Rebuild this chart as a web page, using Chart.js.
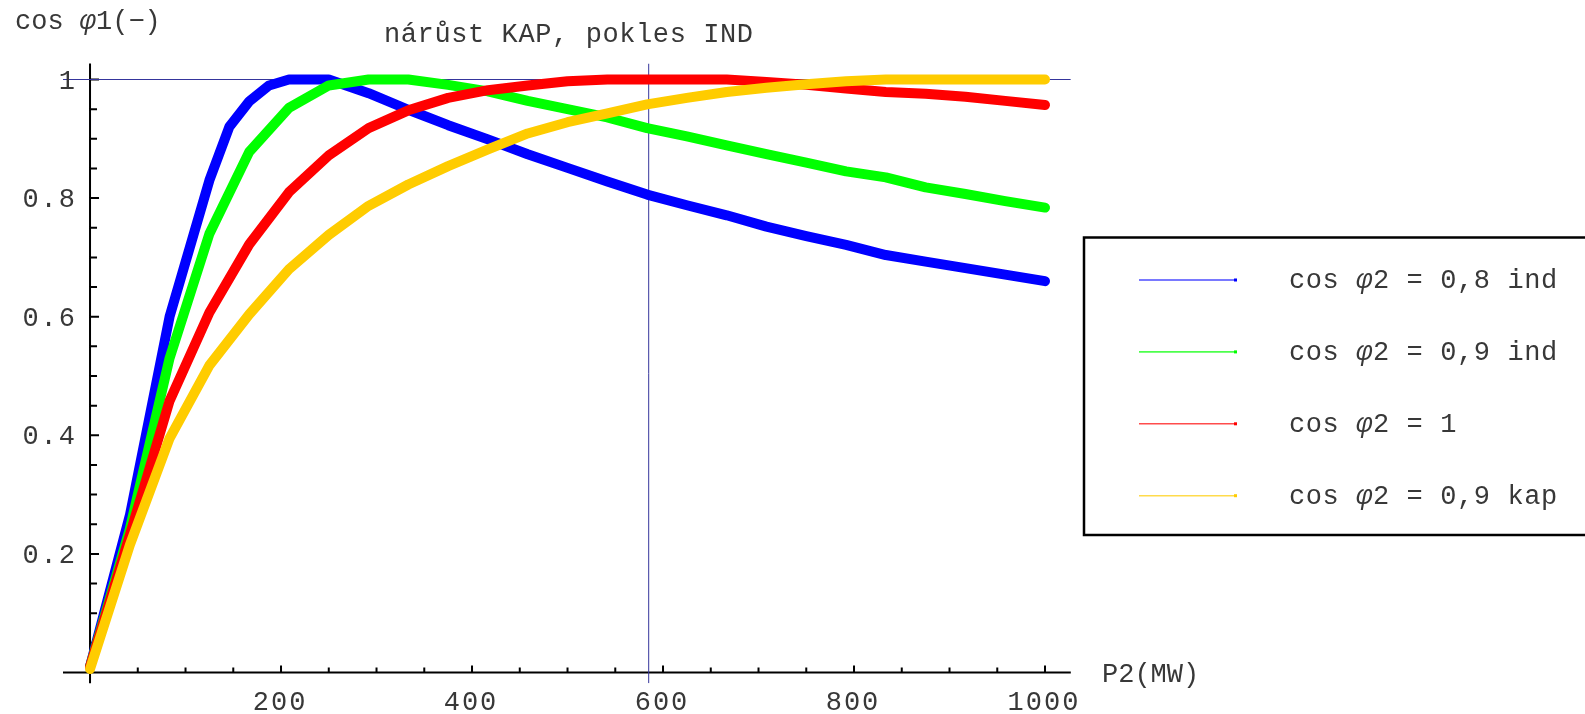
<!DOCTYPE html>
<html>
<head>
<meta charset="utf-8">
<script src="https://cdn.jsdelivr.net/npm/chart.js@4/dist/chart.umd.min.js"></script>
<style>
  html, body { margin: 0; padding: 0; background: #fff; }
  #wrap { width: 1585px; height: 714px; position: relative; }
</style>
</head>
<body>
<div id="wrap"><canvas id="c"></canvas></div>
<script>
// Load power P2 (MW) at which the curves were evaluated
const p2 = [0, 41.7, 83.3, 125, 166.7, 208.3, 250, 291.7, 333.3, 375, 416.7, 458.3, 500,
            541.7, 583.3, 625, 666.7, 708.3, 750, 791.7, 833.3, 875, 916.7, 958.3, 1000];
// the 0,8 ind curve is sampled more finely around its peak
const p2Ind08 = [0, 41.7, 83.3, 125, 145.8, 166.7, 187.5, 208.3, 250, 291.7, 333.3, 375, 416.7, 458.3, 500,
                 541.7, 583.3, 625, 666.7, 708.3, 750, 791.7, 833.3, 875, 916.7, 958.3, 1000];

// Sending-end power factor cos φ1 for each load power factor cos φ2
const cosInd08 = [0.01, 0.265, 0.60, 0.83, 0.92, 0.963, 0.99, 1.0, 1.0, 0.977, 0.949, 0.923, 0.899, 0.874, 0.851,
                  0.828, 0.806, 0.788, 0.771, 0.752, 0.736, 0.721, 0.704, 0.693, 0.682, 0.671, 0.660];
const cosInd09 = [0.01, 0.242, 0.53, 0.74, 0.878, 0.952, 0.99, 1.0, 1.0, 0.991, 0.98, 0.964, 0.95,
                  0.936, 0.918, 0.904, 0.889, 0.874, 0.86, 0.845, 0.835, 0.818, 0.807, 0.795, 0.784];
const cosOne   = [0.01, 0.232, 0.458, 0.607, 0.722, 0.81, 0.872, 0.918, 0.948, 0.969, 0.982, 0.99, 0.997,
                  1.0, 1.0, 1.0, 1.0, 0.996, 0.991, 0.985, 0.979, 0.976, 0.971, 0.964, 0.957];
const cosKap09 = [0.006, 0.215, 0.395, 0.518, 0.604, 0.68, 0.738, 0.787, 0.823, 0.854, 0.882, 0.909, 0.928,
                  0.943, 0.958, 0.969, 0.979, 0.986, 0.992, 0.997, 1.0, 1.0, 1.0, 1.0, 1.0];

const seriesX = [p2Ind08, p2, p2, p2];
const seriesValues = [cosInd08, cosInd09, cosOne, cosKap09];
const seriesLabels = ['cos φ2 = 0,8 ind', 'cos φ2 = 0,9 ind', 'cos φ2 = 1', 'cos φ2 = 0,9 kap'];
const seriesColors = ['#0000ff', '#00ff00', '#ff0000', '#ffcc00'];

// Axis ticks and reference grid lines
const xTicks = [200, 400, 600, 800, 1000];
const yTicks = [0.2, 0.4, 0.6, 0.8, 1];
const xMinorStep = 50;
const yMinorStep = 0.05;
const gridX = [585];
const gridY = [1];
const xRange = [-28.3, 1027];
const yRange = [-0.0182, 1.027];

const chartTitle = 'nárůst KAP, pokles IND';
const xAxisTitle = 'P2(MW)';
const yAxisTitle = 'cos φ1(−)';

const FONT = '"Liberation Mono", "DejaVu Sans Mono", monospace';
const TEXT_COLOR = '#383838';
const GRID_COLOR = '#35359c';

function setSpacing(ctx, px) {
  if ('letterSpacing' in ctx) ctx.letterSpacing = px + 'px';
}

// Text with an italic φ, as in the typeset labels
function drawRich(ctx, text, x, y) {
  const parts = text.split('φ');
  let cx = x;
  parts.forEach((part, i) => {
    ctx.font = '27px ' + FONT;
    ctx.fillText(part, cx, y);
    cx += ctx.measureText(part).width;
    if (i < parts.length - 1) {
      ctx.font = 'italic 27px ' + FONT;
      ctx.fillText('φ', cx, y);
      cx += ctx.measureText('φ').width;
    }
  });
}

const decor = {
  id: 'decor',
  beforeDatasetsDraw(chart) {
    const { ctx, scales: { x, y } } = chart;
    const x0 = x.getPixelForValue(0);
    const y0 = y.getPixelForValue(0);
    ctx.save();
    ctx.strokeStyle = '#000';
    ctx.lineWidth = 2;
    ctx.beginPath();
    ctx.moveTo(x.left, y0); ctx.lineTo(x.right, y0);
    ctx.moveTo(x0, y.top); ctx.lineTo(x0, y.bottom);
    // inward ticks on the horizontal axis
    for (let k = 1; k * xMinorStep <= xTicks[xTicks.length - 1]; k++) {
      const v = k * xMinorStep;
      const px = x.getPixelForValue(v);
      const len = xTicks.includes(v) ? 7 : 5;
      ctx.moveTo(px, y0); ctx.lineTo(px, y0 - len);
    }
    // inward ticks on the vertical axis
    for (let k = 1; k * yMinorStep <= yTicks[yTicks.length - 1] + 1e-9; k++) {
      const v = k * yMinorStep;
      const py = y.getPixelForValue(v);
      const major = yTicks.some(t => Math.abs(t - v) < 1e-9);
      ctx.moveTo(x0, py); ctx.lineTo(x0 + (major ? 9 : 7), py);
    }
    ctx.stroke();
    ctx.restore();
  },
  afterDraw(chart) {
    const { ctx, scales: { x, y } } = chart;
    const x0 = x.getPixelForValue(0);
    const y0 = y.getPixelForValue(0);
    ctx.save();
    ctx.fillStyle = TEXT_COLOR;
    ctx.textBaseline = 'alphabetic';
    ctx.font = '27px ' + FONT;

    // tick labels
    setSpacing(ctx, 2);
    ctx.textAlign = 'center';
    xTicks.forEach(v => ctx.fillText(String(v), x.getPixelForValue(v) - 1, y0 + 37));
    ctx.textAlign = 'right';
    yTicks.forEach(v => ctx.fillText(String(v), x0 - 13, y.getPixelForValue(v) + 9));

    // axis titles and plot title
    setSpacing(ctx, 0);
    ctx.textAlign = 'left';
    ctx.fillText(xAxisTitle, 1102, y0 + 9);
    drawRich(ctx, yAxisTitle, 15, 29);
    setSpacing(ctx, 0.6);
    ctx.font = '27px ' + FONT;
    ctx.fillText(chartTitle, 384, 42);

    // legend box
    const box = { left: 1084, top: 237.5, right: 1600, bottom: 535 };
    ctx.strokeStyle = '#000';
    ctx.lineWidth = 2.5;
    ctx.strokeRect(box.left, box.top, box.right - box.left, box.bottom - box.top);

    const rowY0 = 280, rowStep = 71.9;
    seriesLabels.forEach((label, i) => {
      const ry = rowY0 + i * rowStep;
      ctx.strokeStyle = seriesColors[i];
      ctx.globalAlpha = 0.7;
      ctx.lineWidth = 1.6;
      ctx.beginPath();
      ctx.moveTo(1139, ry); ctx.lineTo(1236, ry);
      ctx.stroke();
      ctx.globalAlpha = 1;
      ctx.fillStyle = seriesColors[i];
      ctx.fillRect(1234, ry - 1.5, 3, 3);
      ctx.fillStyle = TEXT_COLOR;
      drawRich(ctx, label, 1289, ry + 8);
    });
    ctx.restore();
  }
};

const curveSets = seriesValues.map((vals, i) => ({
  label: seriesLabels[i],
  data: seriesX[i].map((p, j) => ({ x: p, y: vals[j] })),
  borderColor: seriesColors[i],
  backgroundColor: seriesColors[i],
  borderWidth: 10,
  borderCapStyle: 'round',
  borderJoinStyle: 'round',
  pointRadius: 0,
  tension: 0,
  fill: false,
  order: seriesValues.length - i
}));

const gridSets = [
  ...gridX.map(g => ({
    label: '',
    data: [{ x: g, y: yRange[0] }, { x: g, y: yRange[1] }],
    borderColor: GRID_COLOR, borderWidth: 1, pointRadius: 0, fill: false, order: 20
  })),
  ...gridY.map(g => ({
    label: '',
    data: [{ x: xRange[0], y: g }, { x: xRange[1], y: g }],
    borderColor: GRID_COLOR, borderWidth: 1, pointRadius: 0, fill: false, order: 20
  }))
];

new Chart(document.getElementById('c'), {
  type: 'line',
  data: { datasets: [...curveSets, ...gridSets] },
  options: {
    responsive: true,
    maintainAspectRatio: false,
    animation: false,
    devicePixelRatio: 1,
    layout: { padding: { left: 63, right: 514.2, top: 63.5, bottom: 30.7 } },
    plugins: { legend: { display: false }, title: { display: false }, tooltip: { enabled: false } },
    scales: {
      x: { type: 'linear', min: xRange[0], max: xRange[1], display: false },
      y: { type: 'linear', min: yRange[0], max: yRange[1], display: false }
    }
  },
  plugins: [decor]
});
</script>
</body>
</html>
